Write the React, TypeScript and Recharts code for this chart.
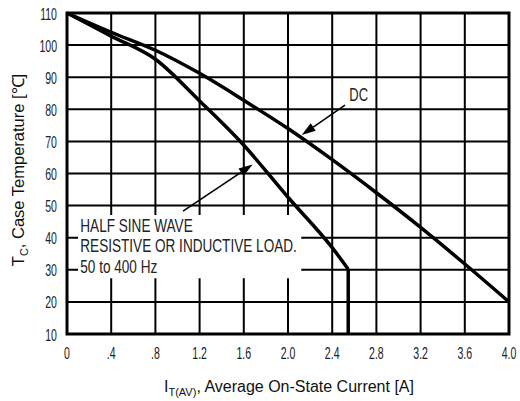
import { LineChart, Line, XAxis, YAxis, CartesianGrid, ReferenceArea, ReferenceLine, ReferenceDot } from 'recharts';

const xTicks = [0, 0.4, 0.8, 1.2, 1.6, 2.0, 2.4, 2.8, 3.2, 3.6, 4.0];
const xTickLabels = ['0', '.4', '.8', '1.2', '1.6', '2.0', '2.4', '2.8', '3.2', '3.6', '4.0'];
const yTicks = [10, 20, 30, 40, 50, 60, 70, 80, 90, 100, 110];

// DC rating curve
const dcCurrent = [0, 0.4, 0.8, 1.2, 1.6, 2.0, 2.4, 2.8, 3.2, 3.6, 4.0];
const dcTemp = [110, 104.0, 98.4, 91.2, 82.8, 74.0, 64.3, 54.0, 43.2, 31.8, 20.0];

// half sine wave curve, ends in a vertical drop at 2.545 A
const halfSineCurrent = [0, 0.4, 0.8, 1.2, 1.6, 2.0, 2.4, 2.545, 2.545];
const halfSineTemp = [110, 102.8, 95.6, 82.6, 68.8, 52.6, 36.9, 30.2, 10];

const noteLines = ['HALF SINE WAVE', 'RESISTIVE OR INDUCTIVE LOAD.', '50 to 400 Hz'];

const dcData = dcCurrent.map((x, i) => ({ x, t: dcTemp[i] }));
const halfSineData = halfSineCurrent.map((x, i) => ({ x, t: halfSineTemp[i] }));
const halfSineCurve = halfSineData.slice(0, -1);
const halfSineDrop = halfSineData.slice(-2);

const sans = "'Liberation Sans', Arial, sans-serif";

// condensed text: squeeze horizontally around the anchor point
function CondText({ x, y, anchor = 'start', size = 16, scale = 0.66, children }: any) {
  return (
    <text
      x={0}
      y={0}
      transform={`translate(${x},${y}) scale(${scale},1)`}
      textAnchor={anchor}
      fontFamily={sans}
      fontSize={size}
      fill="#222"
    >
      {children}
    </text>
  );
}

function Arrow(props: any) {
  const { x1, y1, x2, y2 } = props;
  const ang = Math.atan2(y2 - y1, x2 - x1);
  const len = 14;
  const w = 4.5;
  const bx = x2 - len * Math.cos(ang);
  const by = y2 - len * Math.sin(ang);
  const px = -Math.sin(ang) * w;
  const py = Math.cos(ang) * w;
  return (
    <g>
      <line x1={x1} y1={y1} x2={bx} y2={by} stroke="#000" strokeWidth={1.6} />
      <polygon points={`${x2},${y2} ${bx + px},${by + py} ${bx - px},${by - py}`} fill="#000" />
    </g>
  );
}

function XTitle({ viewBox }: any) {
  const cx = viewBox.x + viewBox.width / 2 + 1;
  return (
    <text x={cx} y={392} textAnchor="middle" fontFamily={sans} fontSize={16} fill="#111">
      <tspan>I</tspan>
      <tspan dy={4} fontSize={11}>T(AV)</tspan>
      <tspan dy={-4}>, Average On-State Current [A]</tspan>
    </text>
  );
}

function YTitle() {
  const x0 = 23.5;
  const y0 = 170;
  return (
    <text x={x0} y={y0} textAnchor="middle" fontFamily={sans} fontSize={16.5} fill="#111" transform={`rotate(-90, ${x0}, ${y0})`}>
      <tspan>T</tspan>
      <tspan dy={4} fontSize={11}>C</tspan>
      <tspan dy={-4}>, Case Temperature [℃]</tspan>
    </text>
  );
}

export default function App() {
  return (
    <div style={{ position: 'absolute', left: 0, top: 0 }}>
      <LineChart width={520} height={401} margin={{ top: 13, right: 11, left: 0, bottom: 0 }}>
        <CartesianGrid stroke="#000" strokeWidth={2} />
        <XAxis
          type="number"
          dataKey="x"
          domain={[0, 4]}
          ticks={xTicks}
          height={67}
          axisLine={false}
          tickLine={false}
          tickSize={0}
          tickMargin={0}
          tick={(p: any) => (
            <CondText x={p.x} y={p.y + 24.5} anchor="middle">
              {xTickLabels[xTicks.indexOf(p.payload.value)]}
            </CondText>
          )}
          label={{ content: (p: any) => <XTitle {...p} /> }}
        />
        <YAxis
          type="number"
          dataKey="t"
          domain={[10, 110]}
          ticks={yTicks}
          width={67}
          axisLine={false}
          tickLine={false}
          tickSize={0}
          tickMargin={10}
          tick={(p: any) => (
            <CondText x={p.x} y={p.y + 6.5} anchor="end">
              {p.payload.value}
            </CondText>
          )}
          label={{ content: () => <YTitle /> }}
        />
        <ReferenceArea x1={0.1} x2={2.12} y1={27.4} y2={47.1} fill="#fff" fillOpacity={1} stroke="none" />
        <ReferenceArea x1={0} x2={4} y1={10} y2={110} fill="none" stroke="#000" strokeWidth={3} />
        <Line data={dcData} dataKey="t" type="monotone" stroke="#000" strokeWidth={3.5} dot={false} isAnimationActive={false} />
        <Line data={halfSineCurve} dataKey="t" type="monotone" stroke="#000" strokeWidth={3.5} dot={false} isAnimationActive={false} />
        <Line data={halfSineDrop} dataKey="t" type="linear" stroke="#000" strokeWidth={3.5} dot={false} isAnimationActive={false} />
        <ReferenceLine segment={[{ x: 2.516, y: 81.3 }, { x: 2.124, y: 72.0 }]} shape={(p: any) => <Arrow {...p} />} />
        <ReferenceLine segment={[{ x: 1.05, y: 48.3 }, { x: 1.68, y: 62.8 }]} shape={(p: any) => <Arrow {...p} />} />
        <ReferenceDot
          x={2.64}
          y={84.5}
          r={0}
          shape={(p: any) => (
            <CondText x={p.cx} y={p.cy + 6.5} anchor="middle" size={18} scale={0.72}>
              DC
            </CondText>
          )}
        />
        {noteLines.map((line, i) => (
          <ReferenceDot
            key={line}
            x={0.12}
            y={41.8 - i * 6.4}
            r={0}
            shape={(p: any) => (
              <CondText x={p.cx} y={p.cy} anchor="start" size={18} scale={0.755}>
                {line}
              </CondText>
            )}
          />
        ))}
      </LineChart>
    </div>
  );
}
